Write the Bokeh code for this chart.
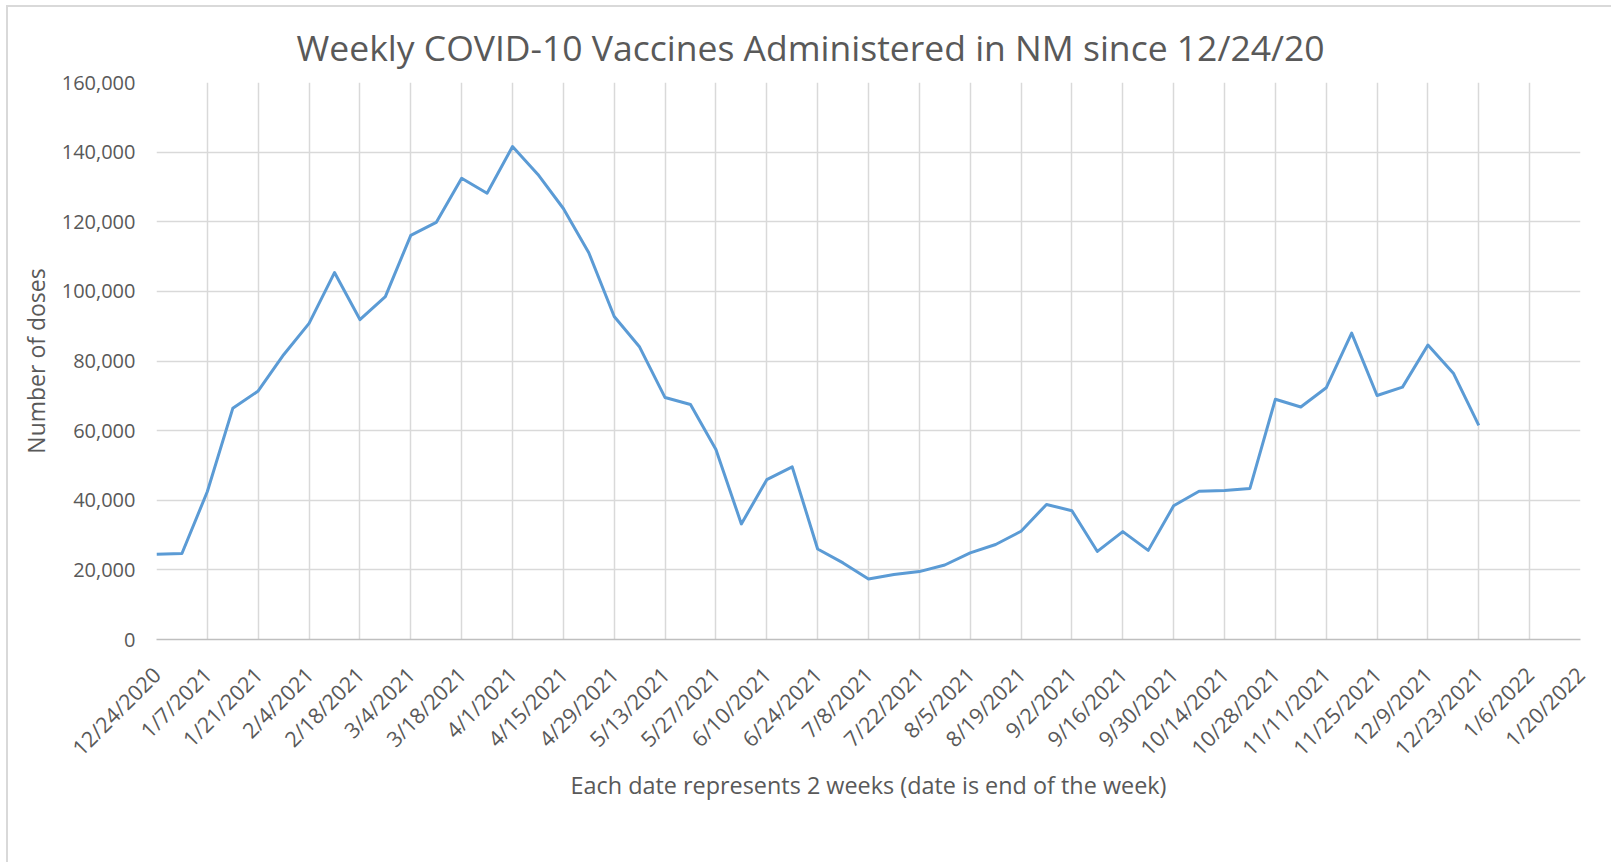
import math
from bokeh.plotting import figure
from bokeh.models import FixedTicker, NumeralTickFormatter, Range1d
from bokeh.embed import file_html
from bokeh.resources import INLINE

# ---- data -------------------------------------------------------------
tick_labels = ["12/24/2020", "1/7/2021", "1/21/2021", "2/4/2021", "2/18/2021",
               "3/4/2021", "3/18/2021", "4/1/2021", "4/15/2021", "4/29/2021",
               "5/13/2021", "5/27/2021", "6/10/2021", "6/24/2021", "7/8/2021",
               "7/22/2021", "8/5/2021", "8/19/2021", "9/2/2021", "9/16/2021",
               "9/30/2021", "10/14/2021", "10/28/2021", "11/11/2021", "11/25/2021",
               "12/9/2021", "12/23/2021", "1/6/2022", "1/20/2022"]

# weekly doses, one value per week starting 12/24/2020
doses = [24500, 24700, 42500, 66400, 71400, 81800, 90800, 105400, 91900, 98500,
         116100, 119800, 132500, 128200, 141600, 133600, 123800, 111100, 92800, 84000,
         69500, 67500, 54600, 33200, 45900, 49600, 26000, 22000, 17400, 18700,
         19500, 21400, 24900, 27300, 31100, 38800, 37000, 25300, 31000, 25600,
         38400, 42600, 42800, 43400, 69000, 66800, 72300, 88000, 70100, 72500,
         84600, 76500, 61500]

y_ticks = [0, 20000, 40000, 60000, 80000, 100000, 120000, 140000, 160000]

title_text = "Weekly COVID-10 Vaccines Administered in NM since 12/24/20"
x_title = "Each date represents 2 weeks (date is end of the week)"
y_title = "Number of doses"

weeks_per_tick = 2
week_idx = list(range(len(doses)))
tick_pos = [i * weeks_per_tick for i in range(len(tick_labels))]

FONT = "Open Sans"
TXT = "#595959"
GRID = "#d9d9d9"

p = figure(width=1605, height=857, output_backend="svg", toolbar_location=None,
           x_range=Range1d(tick_pos[0], tick_pos[-1]),
           y_range=Range1d(y_ticks[0], y_ticks[-1]),
           min_border_left=148, min_border_right=33,
           min_border_top=75, min_border_bottom=225)
p.styles = {"margin-left": "8px", "margin-top": "7px",
            "box-shadow": f"-2px -2px 0px 0px {GRID}"}

p.outline_line_color = None
p.background_fill_color = "white"
p.border_fill_color = "white"

p.line(week_idx, doses, line_color="#5b9bd5", line_width=3, line_join="round")

# title
p.title.text = title_text
p.title.align = "left"
p.title.offset = 140
p.title.text_font = FONT
p.title.text_font_size = "35.5px"
p.title.text_font_style = "normal"
p.title.text_color = TXT
p.title.standoff = 24

# x axis
xa = p.xaxis[0]
xa.ticker = FixedTicker(ticks=tick_pos)
xa.major_label_overrides = {pos: lab for pos, lab in zip(tick_pos, tick_labels)}
xa.major_label_orientation = math.pi / 4
xa.major_label_text_font = FONT
xa.major_label_text_font_size = "21.5px"
xa.major_label_text_color = TXT
xa.major_label_standoff = 25
xa.major_tick_line_color = None
xa.minor_tick_line_color = None
xa.axis_line_color = "#bfbfbf"
xa.axis_line_width = 1.5
xa.axis_label = x_title
xa.axis_label_text_font = FONT
xa.axis_label_text_font_size = "23.4px"
xa.axis_label_text_font_style = "normal"
xa.axis_label_text_color = TXT
xa.axis_label_standoff = -6

# y axis
ya = p.yaxis[0]
ya.ticker = FixedTicker(ticks=y_ticks)
ya.formatter = NumeralTickFormatter(format="0,0")
ya.major_label_text_font = FONT
ya.major_label_text_font_size = "20px"
ya.major_label_text_color = TXT
ya.major_label_standoff = 15
ya.major_tick_line_color = None
ya.minor_tick_line_color = None
ya.axis_line_color = None
ya.axis_label = y_title
ya.axis_label_text_font = FONT
ya.axis_label_text_font_size = "23px"
ya.axis_label_text_font_style = "normal"
ya.axis_label_text_color = TXT
ya.axis_label_standoff = 7

p.xgrid.grid_line_color = GRID
p.xgrid.grid_line_width = 1.5
p.ygrid.grid_line_color = GRID
p.ygrid.grid_line_width = 1.5

open("out.html", "w").write(file_html(p, INLINE))
